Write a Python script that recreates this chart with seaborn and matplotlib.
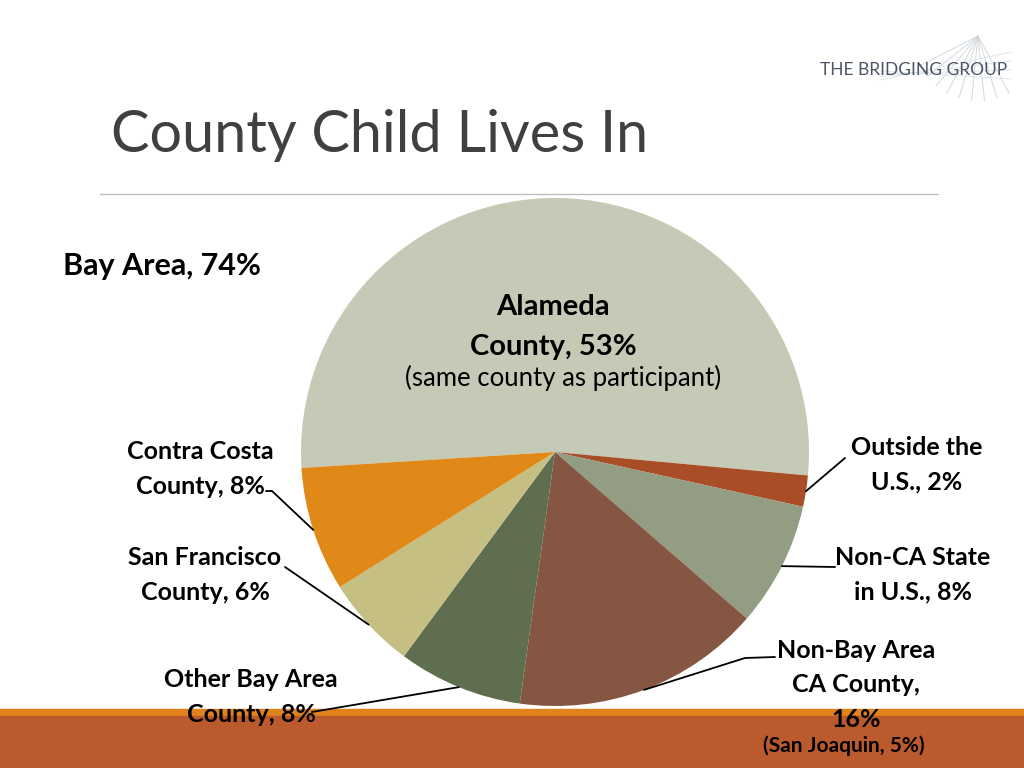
import numpy as np
import seaborn as sns
import matplotlib.pyplot as plt

sns.set_theme(style="white")
plt.rcParams['font.family'] = ['Lato', 'DejaVu Sans']

# data
counties = ["Alameda", "Outside the U.S.", "Non-CA State", "Non-Bay Area CA",
            "Other Bay Area", "San Francisco", "Contra Costa"]
share = [53, 2, 8, 16, 8, 6, 8]
colors = ["#C4CAB6", "#A84D26", "#939D84", "#855642", "#5E6E4E", "#C5BF84", "#E08818"]
label_text = ["Alameda\nCounty, 53%", "Outside the\nU.S., 2%", "Non-CA State\nin U.S., 8%",
              "Non-Bay Area\nCA County,\n16%", "Other Bay Area\nCounty, 8%",
              "San Francisco\nCounty, 6%", "Contra Costa\nCounty, 8%"]

fig = plt.figure(figsize=(10.24, 7.68), dpi=100)
ax = fig.add_axes([0, 0, 1, 1])

# pie in pixel coords (y down)
cx, cy, r = 555, 452, 254
wedges, _ = ax.pie(share, colors=colors, startangle=176.4, counterclock=True,
                   center=(cx, cy), radius=r, wedgeprops=dict(linewidth=0))
ax.set_xlim(0, 1024)
ax.set_ylim(768, 0)
ax.axis("off")

# bottom band
ax.fill_between([0, 1024], 709, 716, color="#E2821A", zorder=5)
ax.fill_between([0, 1024], 716, 768, color="#BB5A2C", zorder=5)

# title + rule
ax.text(111, 136, "County Child Lives In", fontsize=41.5, color="#404040",
        va="center", ha="left")
ax.plot([100, 938], [194, 194], color="#BFBFBF", lw=1)

# logo
for a in np.linspace(-0.5, 1.1, 9):
    ax.plot([978, 978 + 65 * np.cos(np.pi / 2 + a)], [36, 36 + 65 * np.sin(np.pi / 2 + a)],
            color="#D3D8DD", lw=0.7)
for k in range(4):
    ax.plot([880, 1012], [80 - 3 * k, 52 + 9 * k], color="#DDE1E5", lw=0.6)
ax.text(820, 70, "THE BRIDGING GROUP", fontsize=12.5, color="#4A5563",
        va="center", ha="left")

# section label
ax.text(63, 266, "Bay Area, 74%", fontsize=22, fontweight="bold", color="black",
        va="center", ha="left")

# Alameda inside label
ax.text(553, 327, label_text[0], fontsize=21, fontweight="bold", ha="center",
        va="center", linespacing=1.65, color="black", zorder=6)
ax.text(563, 378, "(same county as participant)", fontsize=18.5, ha="center",
        va="center", color="black", zorder=6)

# outside labels: (text x, text y, line points from label toward pie)
spots = {
    1: (917, 465, [(845, 458)]),
    2: (913, 575, [(835, 567)]),
    3: (856, 685, [(775, 657), (745, 658)]),
    4: (251, 697, [(312, 712)]),
    5: (205, 575, [(285, 567)]),
    6: (200, 469, [(266, 491), (272, 491)]),
}
for i, (tx, ty, pts) in spots.items():
    w = wedges[i]
    mid = np.deg2rad((w.theta1 + w.theta2) / 2)
    px, py = cx + r * np.cos(mid), cy + r * np.sin(mid)
    xs = [px] + [p[0] for p in pts[::-1]]
    ys = [py] + [p[1] for p in pts[::-1]]
    ax.plot(xs, ys, color="black", lw=1.3, zorder=6)
    ax.text(tx, ty, label_text[i], fontsize=18, fontweight="bold", ha="center",
            va="center", linespacing=1.6, color="black", zorder=7)

ax.text(844, 746, "(San Joaquin, 5%)", fontsize=15, fontweight="bold", ha="center",
        va="center", color="black", zorder=7)

fig.savefig("out.png", dpi=100)
